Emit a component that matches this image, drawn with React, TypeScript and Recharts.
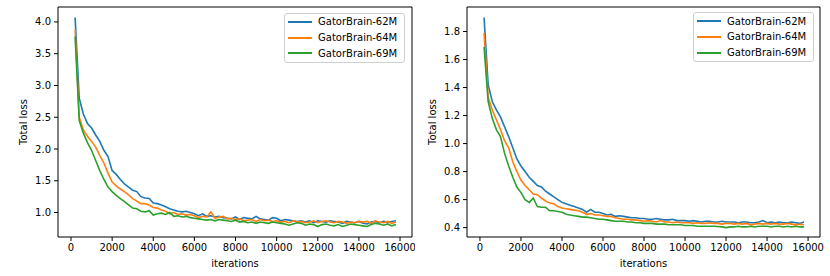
import { LineChart, Line, XAxis, YAxis, Legend, ReferenceLine } from "recharts";

const FONT = "DejaVu Sans, sans-serif";
const C62 = "#1f77b4";
const C64 = "#ff7f0e";
const C69 = "#2ca02c";

const ITERATIONS = [
  200, 400, 600, 800, 1000, 1200, 1400, 1600, 1800, 2000,
  2200, 2400, 2600, 2800, 3000, 3200, 3400, 3600, 3800, 4000,
  4200, 4400, 4600, 4800, 5000, 5200, 5400, 5600, 5800, 6000,
  6200, 6400, 6600, 6800, 7000, 7200, 7400, 7600, 7800, 8000,
  8200, 8400, 8600, 8800, 9000, 9200, 9400, 9600, 9800, 10000,
  10200, 10400, 10600, 10800, 11000, 11200, 11400, 11600, 11800, 12000,
  12200, 12400, 12600, 12800, 13000, 13200, 13400, 13600, 13800, 14000,
  14200, 14400, 14600, 14800, 15000, 15200, 15400, 15600, 15800,
];

// left panel
const L62 = [
  4.07, 2.8, 2.55, 2.4, 2.33, 2.22, 2.12, 1.98, 1.88, 1.66,
  1.6, 1.52, 1.45, 1.4, 1.35, 1.33, 1.25, 1.23, 1.22, 1.15,
  1.14, 1.12, 1.09, 1.06, 1.04, 1.02, 1.01, 1.02, 1.0, 0.98,
  0.95, 0.98, 0.94, 0.95, 0.93, 0.94, 0.92, 0.91, 0.9, 0.93,
  0.89, 0.92, 0.91, 0.9, 0.94, 0.9, 0.89, 0.88, 0.92, 0.91,
  0.87, 0.89, 0.88, 0.87, 0.86, 0.87, 0.85, 0.87, 0.84, 0.87,
  0.86, 0.85, 0.87, 0.86, 0.85, 0.83, 0.86, 0.85, 0.84, 0.86,
  0.83, 0.82, 0.85, 0.86, 0.84, 0.86, 0.85, 0.86, 0.87,
];
const L64 = [
  3.88, 2.5, 2.3, 2.2, 2.12, 2.03, 1.9, 1.78, 1.62, 1.48,
  1.42, 1.37, 1.33, 1.28, 1.22, 1.18, 1.14, 1.14, 1.12, 1.08,
  1.07, 1.04, 1.02, 0.98, 1.0, 0.97, 0.98, 0.96, 0.97, 0.95,
  0.92, 0.94, 0.93, 1.01, 0.91, 0.93, 0.94, 0.9, 0.91, 0.89,
  0.9, 0.87, 0.88, 0.89, 0.86, 0.89, 0.87, 0.88, 0.86, 0.87,
  0.85, 0.86, 0.84, 0.87, 0.85, 0.86, 0.84, 0.85, 0.87, 0.84,
  0.86, 0.87, 0.85, 0.84, 0.86, 0.85, 0.83, 0.85, 0.84, 0.86,
  0.85, 0.86, 0.83, 0.87, 0.85, 0.84, 0.86, 0.83, 0.85,
];
const L69 = [
  3.77, 2.45, 2.25, 2.1, 1.98, 1.82, 1.66, 1.52, 1.4, 1.33,
  1.27, 1.22, 1.17, 1.12, 1.07, 1.06, 1.02, 1.01, 1.03, 0.96,
  0.98, 0.99, 0.97, 1.0, 0.94, 0.95, 0.93, 0.94, 0.92, 0.91,
  0.9, 0.89, 0.88, 0.89, 0.87, 0.89, 0.88, 0.87, 0.86, 0.88,
  0.85, 0.86, 0.84, 0.85, 0.83, 0.85, 0.84, 0.83, 0.85, 0.84,
  0.83, 0.82, 0.8, 0.82, 0.84, 0.83, 0.8, 0.82, 0.81, 0.78,
  0.81, 0.82, 0.8, 0.79, 0.81, 0.78, 0.8, 0.82, 0.81, 0.8,
  0.79, 0.78, 0.81, 0.83, 0.82, 0.8, 0.82, 0.79, 0.81,
];

// right panel
const R62 = [
  1.9, 1.42, 1.3, 1.24, 1.19, 1.12, 1.05, 0.97, 0.89, 0.84,
  0.8, 0.76, 0.73, 0.7, 0.69, 0.66, 0.64, 0.62, 0.6, 0.58,
  0.57, 0.56, 0.55, 0.54, 0.53, 0.51, 0.53, 0.51, 0.51, 0.5,
  0.49, 0.495, 0.48, 0.485, 0.48, 0.475, 0.47, 0.47, 0.465, 0.465,
  0.46, 0.46, 0.465, 0.46, 0.455, 0.455, 0.46, 0.45, 0.45, 0.45,
  0.445, 0.45, 0.445, 0.44, 0.445, 0.445, 0.44, 0.44, 0.445, 0.44,
  0.44, 0.44, 0.435, 0.44, 0.44, 0.435, 0.435, 0.44, 0.45, 0.435,
  0.44, 0.435, 0.44, 0.435, 0.435, 0.44, 0.435, 0.43, 0.44,
];
const R64 = [
  1.79, 1.33, 1.24, 1.17, 1.1, 1.02, 0.97, 0.87, 0.8, 0.74,
  0.7, 0.67, 0.64, 0.635, 0.61, 0.59, 0.575, 0.57, 0.55, 0.54,
  0.535, 0.53, 0.525, 0.52, 0.51, 0.495, 0.5, 0.49, 0.49, 0.485,
  0.48, 0.48, 0.47, 0.465, 0.46, 0.46, 0.455, 0.455, 0.45, 0.445,
  0.45, 0.445, 0.44, 0.45, 0.44, 0.44, 0.435, 0.44, 0.435, 0.435,
  0.435, 0.43, 0.435, 0.43, 0.43, 0.435, 0.43, 0.43, 0.425, 0.43,
  0.43, 0.425, 0.43, 0.425, 0.43, 0.42, 0.425, 0.43, 0.425, 0.43,
  0.425, 0.43, 0.425, 0.425, 0.43, 0.425, 0.42, 0.425, 0.42,
];
const R69 = [
  1.69, 1.3, 1.18, 1.1, 1.05, 0.93, 0.84, 0.76, 0.69, 0.65,
  0.6, 0.58, 0.61, 0.55, 0.545, 0.545, 0.52, 0.52, 0.515, 0.51,
  0.495, 0.49, 0.485, 0.48, 0.475, 0.475, 0.47, 0.465, 0.46, 0.46,
  0.455, 0.45, 0.445, 0.445, 0.445, 0.44, 0.44, 0.435, 0.435, 0.43,
  0.43, 0.43, 0.425, 0.425, 0.425, 0.42, 0.42, 0.42, 0.42, 0.415,
  0.415, 0.415, 0.41, 0.41, 0.41, 0.41, 0.41, 0.408, 0.405, 0.4,
  0.405, 0.405, 0.41, 0.405, 0.405, 0.41, 0.405, 0.41, 0.41, 0.41,
  0.405, 0.41, 0.41, 0.405, 0.41, 0.405, 0.41, 0.405, 0.405,
];

const X_TICKS = [0, 2000, 4000, 6000, 8000, 10000, 12000, 14000, 16000];
const L_TICKS = [1.0, 1.5, 2.0, 2.5, 3.0, 3.5, 4.0];
const R_TICKS = [0.4, 0.6, 0.8, 1.0, 1.2, 1.4, 1.6, 1.8];
const X_DOMAIN = [-632, 16582];

const tickStyle = { fontSize: 10, fill: "#000", fontFamily: FONT };

function YTitle({ viewBox }: any) {
  const x = viewBox.x + viewBox.width - 31;
  const y = viewBox.y + viewBox.height / 2;
  return (
    <text x={x} y={y} transform={`rotate(-90 ${x} ${y})`} textAnchor="middle"
      fontSize={10} fontFamily={FONT} fill="#000">Total loss</text>
  );
}

function LegendBox({ payload }: any) {
  return (
    <div style={{ background: "#fff", border: "1px solid #cfcfcf", borderRadius: 3, padding: "0 3px", boxSizing: "border-box", width: 121, height: 50, fontFamily: FONT, fontSize: 10, color: "#000", paddingTop: 0.5 }}>
      {(payload || []).map((p: any) => (
        <div key={p.value} style={{ display: "flex", alignItems: "center", height: 15.8 }}>
          <span style={{ display: "inline-block", width: 23.5, height: 2, background: p.color, marginRight: 6.5 }} />
          <span>{p.value}</span>
        </div>
      ))}
    </div>
  );
}

function Panel({ a, b, c, domain, ticks, margin, legendAt }: any) {
  const rows = ITERATIONS.map((it, i) => ({ it, a: a[i], b: b[i], c: c[i] }));
  return (
    <LineChart width={415} height={276} data={rows} margin={margin}>
      <XAxis dataKey="it" type="number" domain={X_DOMAIN} allowDataOverflow ticks={X_TICKS} interval={0}
        tick={tickStyle} tickSize={4} tickMargin={3} stroke="#000" height={30}
        label={{ value: "iterations", position: "insideBottom", offset: 0, fontSize: 10, fontFamily: FONT, fill: "#000" }} />
      <YAxis type="number" domain={domain} allowDataOverflow ticks={ticks} interval={0}
        tickFormatter={(v: number) => v.toFixed(1)} tick={tickStyle} tickSize={4} tickMargin={3}
        stroke="#000" width={50} label={<YTitle />} />
      {/* top and right spines */}
      <ReferenceLine y={domain[1]} stroke="#000" strokeWidth={1} ifOverflow="visible" />
      <ReferenceLine x={X_DOMAIN[1]} stroke="#000" strokeWidth={1} ifOverflow="visible" />
      <Legend layout="vertical" align="center" verticalAlign="middle" content={<LegendBox />}
        wrapperStyle={{ left: legendAt[0], top: legendAt[1], width: 121, height: 50 }} />
      <Line dataKey="a" name="GatorBrain-62M" stroke={C62} strokeWidth={1.6} dot={false} isAnimationActive={false} />
      <Line dataKey="b" name="GatorBrain-64M" stroke={C64} strokeWidth={1.6} dot={false} isAnimationActive={false} />
      <Line dataKey="c" name="GatorBrain-69M" stroke={C69} strokeWidth={1.6} dot={false} isAnimationActive={false} />
    </LineChart>
  );
}

export default function App() {
  return (
    <div style={{ position: "absolute", left: 0, top: 0, width: 830, height: 276, background: "#fff", display: "flex" }}>
      <Panel a={L62} b={L64} c={L69} domain={[0.615, 4.235]} ticks={L_TICKS}
        margin={{ top: 7, right: 3, bottom: 9, left: 8 }} legendAt={[284, 12.5]} />
      <Panel a={R62} b={R64} c={R69} domain={[0.333, 1.975]} ticks={R_TICKS}
        margin={{ top: 7, right: 10, bottom: 9, left: 2 }} legendAt={[278, 11.7]} />
    </div>
  );
}
